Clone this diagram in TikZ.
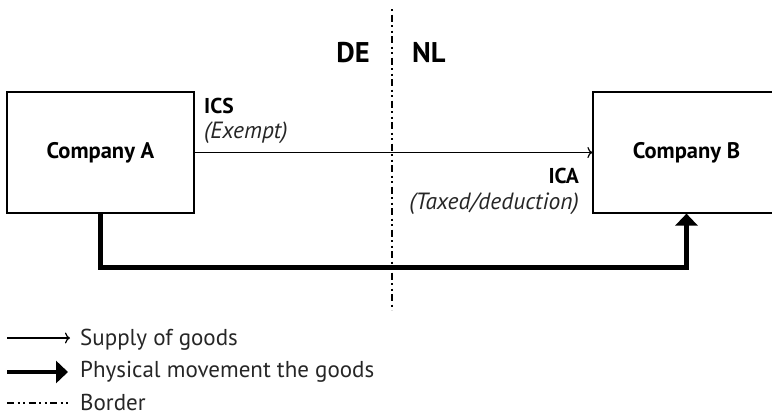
\documentclass[tikz,border=0pt]{standalone}
\usepackage{fontspec}
\setmainfont{PT Sans}
\usetikzlibrary{arrows.meta}
\tikzset{ co/.style = { draw
                       , line width    = 1.2pt
                       , inner sep     = 0pt
                       , minimum width = 187pt
                       , minimum height= 121pt
                       , font          = \fontsize{22.5}{26}\selectfont\bfseries
                       },
          cty/.style = { inner sep = 0pt
                       , font      = \fontsize{28.5}{32}\selectfont\bfseries
                       },
          tag/.style = { inner sep = 0pt
                       , font      = \fontsize{21.5}{25}\selectfont\bfseries
                       },
          sub/.style = { inner sep = 0pt
                       , text      = black!85
                       , font      = \fontsize{23.5}{27}\selectfont\itshape
                       },
          leg/.style = { inner sep = 0pt
                       , anchor    = base west
                       , text      = black!85
                       , font      = \fontsize{23}{26}\selectfont
                       },
          supply/.style = { line width = 1.2pt
                          , -{To[length=5pt,width=11pt]}
                          },
          phys/.style = { line width = 4.5pt
                        , -{Triangle[length=12pt,width=22pt]}
                        },
          border/.style = { line width = 2.2pt
                          , dash pattern = on 7pt off 3.5pt on 2pt off 3.5pt on 2pt off 3.5pt
                          }
        }

\begin{document}
\begin{tikzpicture}[x=1pt, y=-1pt]
    \useasboundingbox (0,0) rectangle (772,416);
    % companies
    \node[co] (ca) at (100.5,152.5) {Company A};
    \node[co] (cb) at (686.5,152.5) {Company B};
    % border
    \coordinate (bt) at (392,8);
    \coordinate (bb) at (392,310);
    \draw[border, dash phase=15pt] (bt) -- (bb);
    \node[cty, anchor=base east] (de) at (370,62) {DE};
    \node[cty, anchor=base west] (nl) at (412,62) {NL};
    % supply
    \draw[supply] (ca.east) -- (cb.west);
    \node[tag, anchor=base west] (ics) at (204,113) {ICS};
    \node[sub, anchor=base west] (ex) at (204,138) {(Exempt)};
    \node[tag, anchor=base east] (ica) at (579,183) {ICA};
    \node[sub, anchor=base east] (tx) at (579,209) {(Taxed/deduction)};
    % physical movement
    \draw[phys] (ca.south) -- ++(0,54) -| (cb.south);
    % legend
    \coordinate (l1) at (7,338);
    \coordinate (l2) at (7,372);
    \coordinate (l3) at (7,403);
    \node[leg] (lsup) at (80,345) {Supply of goods};
    \node[leg] (lphy) at (80,377) {Physical movement the goods};
    \node[leg] (lbor) at (80,410) {Border};
    \draw[supply] (l1) -- ++(63,0);
    \draw[phys] (l2) -- ++(61,0);
    \draw[border] (l3) -- ++(61,0);
\end{tikzpicture}
\end{document}
